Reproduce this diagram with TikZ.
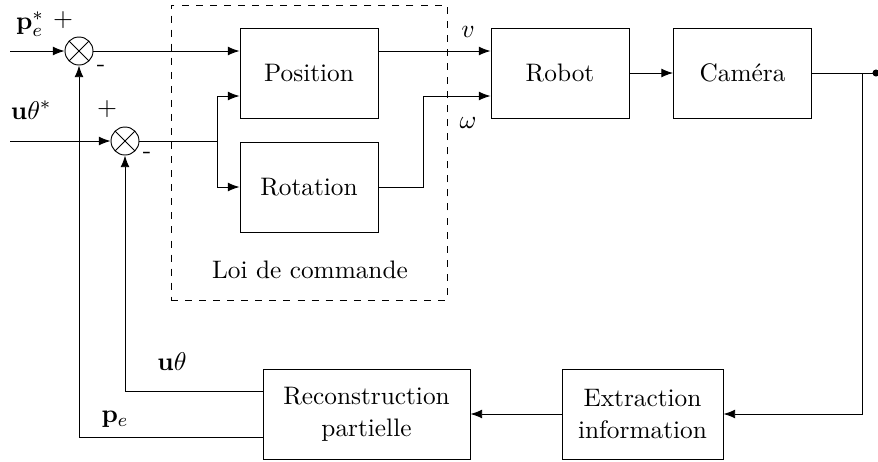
\documentclass[tikz,border=0pt]{standalone}
\usetikzlibrary{arrows.meta,calc}

\begin{document}
\begin{tikzpicture}[x=0.015cm, y=-0.015cm,
    every node/.style={font=\fontsize{10.8}{13.5}\selectfont},
    bloc/.style={draw, minimum width=#1, minimum height=1.35cm,
                 align=center, inner sep=0pt},
    bloc/.default=2.07cm,
    somme/.style={draw, circle, minimum size=0.42cm, inner sep=0pt,
                  path picture={
                    \draw (path picture bounding box.north west) -- (path picture bounding box.south east);
                    \draw (path picture bounding box.north east) -- (path picture bounding box.south west);}},
    fl/.style={-{Latex[length=5pt,width=3.8pt]}},
    lbl/.style={inner sep=0pt}
  ]
    \useasboundingbox (0,0) rectangle (878,461);

    % --- comparateurs ---
    \node[somme] (s1) at (79,51) {};
    \node[somme] (s2) at (125,141) {};
    \coordinate (in1) at (10,51);
    \coordinate (in2) at (10,141);

    \node[lbl] (pref) at (30,24) {$\mathbf{p}_e^*$};
    \node[lbl] (plus1) at (63,20) {$+$};
    \node[lbl] (moins1) at (101,68) {-};
    \node[lbl] (uref) at (31,110) {$\mathbf{u}\theta^*$};
    \node[lbl] (plus2) at (107,109) {$+$};
    \node[lbl] (moins2) at (147,155) {-};

    % --- loi de commande ---
    \node[draw, dashed, minimum width=4.14cm, minimum height=4.425cm] (loi) at (309,152.5) {};
    \node (txtloi) at (310,270) {Loi de commande};
    \node[bloc] (pos) at (309,73) {Position};
    \node[bloc] (rot) at (309,187) {Rotation};
    \coordinate (j1) at (217,141);

    % --- robot et camera ---
    \node[bloc] (rob) at (560,73) {Robot};
    \node[bloc] (cam) at (742.5,73) {Cam\'era};
    \coordinate (j2) at (862,73);
    \coordinate (sortie) at (876,73);
    \node[lbl] (lv) at (468,32) {$v$};
    \node[lbl] (lw) at (468,123) {$\omega$};

    % --- retour ---
    \node[bloc=2.415cm] (ext) at (642.5,414) {Extraction\\information};
    \node[bloc=3.105cm] (rec) at (366.5,414) {Reconstruction\\partielle};
    \node[lbl] (lu) at (172,362) {$\mathbf{u}\theta$};
    \node[lbl] (lp) at (115,419) {$\mathbf{p}_e$};

    % --- liaisons ---
    \draw[fl] (in1) -- (s1);
    \draw[fl] (in2) -- (s2);
    \draw[fl] (s1) -- (s1 -| pos.west);
    \draw (s2) -- (j1);
    \draw[fl] (j1) |- ($(pos.west)+(0,23)$);
    \draw[fl] (j1) |- (rot.west);
    \draw[fl] ($(pos.east)+(0,-22)$) -- ($(rob.west)+(0,-22)$);
    \draw[fl] (rot.east) -- ++(45,0) |- ($(rob.west)+(0,23)$);
    \draw[fl] (rob) -- (cam);
    \draw (cam) -- (sortie);
    \fill (sortie) circle (1.5pt);
    \draw[fl] (j2) |- (ext.east);
    \draw[fl] (ext) -- (rec);
    \draw[fl] ($(rec.west)+(0,-23)$) -| (s2);
    \draw[fl] ($(rec.west)+(0,23)$) -| (s1);
\end{tikzpicture}
\end{document}
